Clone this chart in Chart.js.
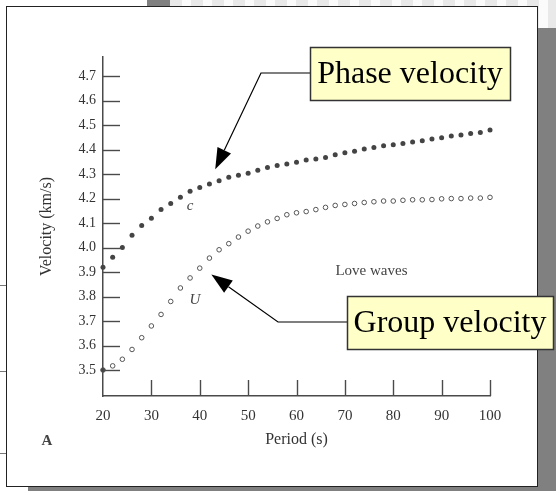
<!DOCTYPE html>
<html>
<head>
<meta charset="utf-8">
<script src="https://cdn.jsdelivr.net/npm/chart.js@4.4.1/dist/chart.umd.min.js"></script>
<style>
  html, body { margin: 0; padding: 0; background: #fff; }
  #wrap { position: relative; width: 556px; height: 491px; overflow: hidden; }
  .blk { position: absolute; }
  #stripes { left: 170px; top: 0; width: 386px; height: 28px;
    background: repeating-linear-gradient(90deg, #e9e9e9 0 12px, #fbfbfb 12px 21px); }
  #dark { left: 147px; top: 0; width: 23px; height: 10px; background: #808080; }
  #shadow { left: 28px; top: 28px; width: 528px; height: 463px; background: #808080; }
  #panel { left: 6px; top: 6px; width: 530px; height: 479px; background: #fff; border: 1px solid #222; }
  .edge { position: absolute; left: 0; width: 6px; height: 1px; background: #777; }
  canvas { position: absolute; left: 0; top: 0; }
</style>
</head>
<body>
<div id="wrap">
  <div class="blk" id="stripes"></div>
  <div class="blk" id="dark"></div>
  <div class="blk" id="shadow"></div>
  <div class="blk" id="panel"></div>
  <div class="edge" style="top:285px"></div>
  <div class="edge" style="top:371px"></div>
  <div class="edge" style="top:453px"></div>
  <canvas id="chart" width="556" height="491"></canvas>
</div>
<script>
// values
const periods = [20, 22, 24, 26, 28, 30, 32, 34, 36, 38, 40, 42, 44, 46, 48, 50, 52, 54, 56, 58, 60,
                 62, 64, 66, 68, 70, 72, 74, 76, 78, 80, 82, 84, 86, 88, 90, 92, 94, 96, 98, 100];
const phaseVel = [3.92, 3.96, 4.00, 4.05, 4.09, 4.12, 4.155, 4.18, 4.205, 4.23, 4.245, 4.26, 4.273, 4.287, 4.295, 4.303, 4.316, 4.327, 4.335, 4.341, 4.348,
                  4.357, 4.362, 4.368, 4.379, 4.387, 4.393, 4.402, 4.409, 4.416, 4.42, 4.425, 4.431, 4.436, 4.443, 4.448, 4.455, 4.46, 4.466, 4.47, 4.48];
const groupVel = [3.50, 3.517, 3.544, 3.584, 3.632, 3.68, 3.727, 3.78, 3.835, 3.876, 3.916, 3.957, 3.991, 4.016, 4.043, 4.067, 4.088, 4.105, 4.119, 4.134, 4.142,
                  4.147, 4.155, 4.164, 4.172, 4.176, 4.18, 4.184, 4.187, 4.19, 4.19, 4.193, 4.195, 4.195, 4.196, 4.199, 4.2, 4.2, 4.202, 4.202, 4.205];
const xTicks = [20, 30, 40, 50, 60, 70, 80, 90, 100];
const yTicks = [3.5, 3.6, 3.7, 3.8, 3.9, 4.0, 4.1, 4.2, 4.3, 4.4, 4.5, 4.6, 4.7];

const ink = '#4a4a4a';
const serif = '"Liberation Serif", "Times New Roman", serif';

// inward tick marks, curve labels and the two callouts
const extras = {
    id: 'extras',
    afterDraw(chart) {
        const { ctx, scales: { x, y } } = chart;
        ctx.save();
        ctx.strokeStyle = ink;
        ctx.lineWidth = 1.4;
        yTicks.forEach(v => {
            const py = Math.round(y.getPixelForValue(v)) + 0.5;
            ctx.beginPath(); ctx.moveTo(x.left, py); ctx.lineTo(x.left + 17, py); ctx.stroke();
        });
        xTicks.slice(1).forEach(v => {
            const px = Math.round(x.getPixelForValue(v)) + 0.5;
            ctx.beginPath(); ctx.moveTo(px, y.bottom); ctx.lineTo(px, y.bottom - 16); ctx.stroke();
        });

        ctx.fillStyle = '#444';
        ctx.textAlign = 'center';
        ctx.textBaseline = 'middle';
        ctx.font = 'italic 15px ' + serif;
        ctx.fillText('c', x.getPixelForValue(38), y.getPixelForValue(4.17));
        ctx.fillText('U', x.getPixelForValue(39), y.getPixelForValue(3.785));
        ctx.font = '15px ' + serif;
        ctx.fillText('Love waves', x.getPixelForValue(75.5), y.getPixelForValue(3.906));
        ctx.font = 'bold 15px ' + serif;
        ctx.fillText('A', 47, 441);

        callout(ctx, 'Phase velocity', 310, 47, 200, 53,
            [[310, 73], [261, 73]], [x.getPixelForValue(43.2), y.getPixelForValue(4.32)]);
        callout(ctx, 'Group velocity', 347, 296, 206, 53,
            [[347, 322], [278, 322]], [x.getPixelForValue(42.4), y.getPixelForValue(3.89)]);
        ctx.restore();
    }
};

function callout(ctx, text, bx, by, bw, bh, path, tip) {
    const last = path[path.length - 1];
    const ang = Math.atan2(tip[1] - last[1], tip[0] - last[0]);
    const len = 21, half = 7.5;
    const baseX = tip[0] - len * Math.cos(ang), baseY = tip[1] - len * Math.sin(ang);

    ctx.strokeStyle = '#000';
    ctx.lineWidth = 1.2;
    ctx.beginPath();
    ctx.moveTo(path[0][0], path[0][1]);
    path.slice(1).forEach(p => ctx.lineTo(p[0], p[1]));
    ctx.lineTo(baseX, baseY);
    ctx.stroke();

    ctx.fillStyle = '#000';
    ctx.beginPath();
    ctx.moveTo(tip[0], tip[1]);
    ctx.lineTo(baseX + half * Math.sin(ang), baseY - half * Math.cos(ang));
    ctx.lineTo(baseX - half * Math.sin(ang), baseY + half * Math.cos(ang));
    ctx.closePath();
    ctx.fill();

    ctx.fillStyle = '#ffffc8';
    ctx.fillRect(bx, by, bw, bh);
    ctx.strokeStyle = '#333';
    ctx.lineWidth = 1.5;
    ctx.strokeRect(bx + 0.5, by + 0.5, bw, bh);

    ctx.fillStyle = '#000';
    ctx.font = '32px ' + serif;
    ctx.textAlign = 'center';
    ctx.textBaseline = 'middle';
    ctx.fillText(text, bx + bw / 2, by + bh / 2 + 1);
}

new Chart(document.getElementById('chart'), {
    type: 'scatter',
    data: {
        datasets: [{
            label: 'Phase velocity',
            data: periods.map((p, i) => ({ x: p, y: phaseVel[i] })),
            clip: false,
            pointRadius: 2.5,
            pointBorderWidth: 0,
            pointBackgroundColor: '#444'
        }, {
            label: 'Group velocity',
            data: periods.map((p, i) => ({ x: p, y: groupVel[i] })),
            clip: false,
            pointRadius: 2.3,
            pointBorderWidth: 1,
            pointBorderColor: '#555',
            pointBackgroundColor: periods.map((p, i) => i === 0 ? '#444' : '#fff')
        }]
    },
    options: {
        responsive: false,
        animation: false,
        layout: { padding: { left: 0, right: 66, top: 57, bottom: 35 } },
        plugins: { legend: { display: false }, tooltip: { enabled: false } },
        scales: {
            x: {
                type: 'linear',
                min: 20, max: 100,
                afterBuildTicks: s => { s.ticks = xTicks.map(v => ({ value: v })); },
                afterFit: s => { s.height = 60; },
                grid: { display: false, drawTicks: false },
                border: { display: true, color: ink, width: 1.5 },
                ticks: { color: '#333', padding: 11, font: { family: serif, size: 15 } },
                title: { display: true, text: 'Period (s)', color: '#333',
                         font: { family: serif, size: 16 }, padding: { top: 0, bottom: 7 } }
            },
            y: {
                min: 3.394, max: 4.778,
                afterBuildTicks: s => { s.ticks = yTicks.map(v => ({ value: v })); },
                afterFit: s => { s.width = 103; },
                grid: { display: false, drawTicks: false },
                border: { display: true, color: ink, width: 1.5 },
                ticks: { color: '#333', padding: 7, font: { family: serif, size: 14 },
                         callback: v => v.toFixed(1) },
                title: { display: true, text: 'Velocity (km/s)', color: '#333',
                         font: { family: serif, size: 16 }, padding: { top: 37, bottom: 0 } }
            }
        }
    },
    plugins: [extras]
});
</script>
</body>
</html>
